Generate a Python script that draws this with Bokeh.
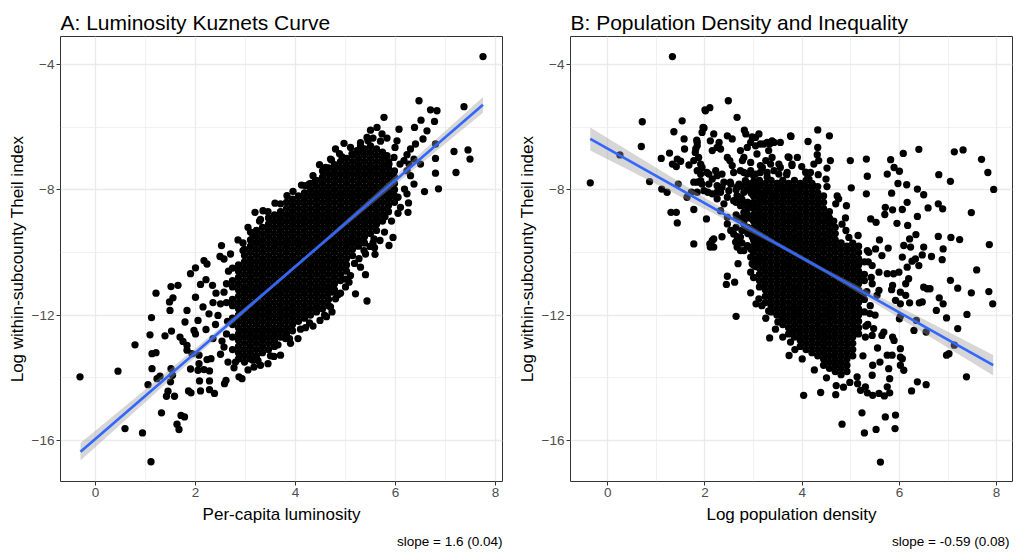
from bokeh.plotting import figure
from bokeh.layouts import row
from bokeh.models import Range1d, FixedTicker, Title
from bokeh.embed import file_html
from bokeh.resources import INLINE

# ---------------- Panel A: luminosity vs inequality ----------------
# scattered subcounties (per-capita luminosity, log Theil index)
lum_x = [-0.31, 0.45, 0.79, 0.59, 0.94, 1.11, 1.21, 1.12, 1.09, 1.13, 1.21, 1.13, 1.23, 1.29, 1.05, 1.32,
         1.51, 1.65, 1.55, 1.48, 1.49, 1.39, 1.52, 1.45, 1.42, 1.58, 1.51, 1.54, 1.50, 1.63, 1.67, 1.71, 1.78,
         1.83, 1.79, 1.69, 1.75, 1.83, 1.86, 1.91, 1.90, 2.00, 2.17, 2.23, 2.10, 2.21, 2.34, 2.00, 2.15, 2.27,
         2.05, 1.97, 2.00, 2.21, 1.83, 1.93, 2.07, 2.07, 2.23, 2.31, 2.05, 2.17, 2.28, 2.08, 2.28, 2.10, 2.28,
         2.38, 1.90, 2.52, 2.49, 2.57, 2.41, 2.57, 2.50, 2.45, 2.53, 2.57, 2.58, 2.61, 2.77, 2.87, 2.93, 3.17,
         3.15, 3.57, 3.30, 3.45, 2.35, 2.40, 2.62, 2.62, 2.35, 2.50, 2.65, 2.66, 2.62, 2.64, 3.19, 3.35, 3.59,
         3.83, 2.95, 3.15, 2.85, 3.05, 3.30, 4.27, 4.20, 4.40, 4.70, 4.60, 4.97, 4.80, 4.93, 5.13, 5.23, 5.43,
         5.30, 5.45, 5.50, 5.63, 5.73, 5.83, 6.07, 6.03, 5.99, 6.40, 6.30, 6.23, 6.17, 6.09, 6.23, 5.97, 5.83,
         5.87, 6.37, 6.27, 6.30, 6.18, 6.23, 6.05, 6.10, 6.26, 6.25, 5.79, 5.95, 5.57, 5.69, 5.49, 5.87, 5.59,
         7.75, 6.47, 7.37, 6.70, 6.83, 5.77, 6.78, 6.51, 6.38, 6.63, 6.55, 6.80, 7.17, 7.45, 7.49, 7.21, 6.80,
         6.80, 6.86, 6.58, 6.50, 6.37, 5.43, 5.20, 5.40, 5.30, 5.27, 5.58, 5.37, 5.10, 5.07, 4.77, 4.80, 4.70,
         4.73, 4.49, 4.20, 3.80, 3.70, 3.90, 4.05, 4.35, 4.62, 5.00, 4.90,
         2.70, 2.95, 3.10, 3.28, 3.45, 3.70, 3.95, 4.12, 4.35, 4.48, 4.72, 4.88, 5.10, 5.30, 5.55, 5.70,
         2.80, 3.05, 3.25, 3.50, 3.65, 3.88, 4.10, 4.28, 4.58, 4.85, 5.00, 5.18, 5.40, 5.55, 5.78, 5.92, 6.05]
theil_a = [-13.97, -13.79, -12.95, -15.62, -15.76, -16.68, -11.30, -12.08, -12.63, -13.23, -13.20, -13.71, -14.03, -13.95, -14.22, -15.12,
           -11.09, -11.05, -11.45, -11.58, -11.85, -12.66, -12.51, -14.43, -14.59, -14.59, -13.71, -13.92, -14.13, -15.48, -15.65, -15.20, -15.25,
           -11.85, -12.22, -12.70, -12.84, -12.97, -14.42, -14.48, -10.68, -10.49, -10.26, -10.37, -11.02, -10.87, -11.05, -11.43, -11.74, -11.96,
           -12.17, -12.49, -12.60, -12.46, -13.12, -13.23, -13.28, -13.55, -13.42, -13.39, -13.76, -13.74, -13.78, -14.10, -14.10, -14.42, -14.38,
           -14.50, -13.72, -9.78, -10.13, -10.21, -11.30, -11.27, -11.64, -12.01, -12.83, -13.02, -14.19, -14.08, -13.68, -13.97, -14.03, -13.66,
           -13.44, -13.32, -13.60, -13.55, -11.60, -12.30, -12.60, -11.60, -12.75, -13.25, -13.50, -10.60, -11.00, -12.20, -8.72, -8.67, -8.43,
           -8.19, -9.94, -9.46, -9.60, -9.20, -8.95, -7.82, -7.87, -7.71, -7.02, -7.29, -6.52, -6.70, -6.95, -6.86, -6.75, -6.33,
           -6.60, -6.44, -6.10, -6.01, -6.22, -6.35, -6.07, -6.44, -6.65, -6.54, -6.70, -6.88, -7.07, -7.18, -7.39, -6.97, -6.91,
           -7.18, -7.02, -7.18, -7.55, -7.98, -8.13, -8.24, -8.56, -8.42, -8.72, -8.86, -9.52, -9.57, -9.62, -9.81, -9.78, -10.06,
           -3.75, -5.16, -5.35, -5.45, -5.48, -5.69, -5.82, -5.78, -6.01, -6.12, -6.38, -6.54, -6.78, -6.73, -7.02, -7.45, -7.00,
           -7.47, -7.97, -8.06, -7.18, -7.82, -11.55, -11.32, -10.71, -10.47, -10.20, -9.85, -9.94, -10.74, -10.95, -11.27, -11.48, -11.74,
           -11.90, -12.17, -12.40, -12.75, -13.28, -12.90, -12.75, -12.35, -12.05, -11.10, -11.30,
           -10.05, -9.70, -9.35, -9.00, -8.70, -8.45, -8.05, -7.85, -7.55, -7.20, -7.05, -6.85, -6.65, -6.50, -6.35, -6.45,
           -13.50, -13.75, -13.45, -13.30, -12.95, -12.75, -12.45, -12.25, -12.00, -11.35, -10.85, -10.35, -10.05, -9.70, -9.35, -9.00, -8.75]

# crowded centre of the cloud: one list of index values per luminosity column
lum_cols = [2.74, 2.86, 2.98, 3.10, 3.22, 3.34, 3.46, 3.58, 3.70, 3.82, 3.94, 4.06, 4.18, 4.30,
            4.42, 4.54, 4.66, 4.78, 4.90, 5.02, 5.14, 5.26, 5.38, 5.50, 5.62, 5.74, 5.86, 5.98]
theil_a_cols = [
    [-10.5, -10.9, -11.1, -11.5, -11.7, -12.1, -12.3, -12.7, -13.1],
    [-10.4, -10.6, -10.8, -11.0, -11.2, -11.4, -11.6, -11.8, -12.0, -12.2, -12.4, -12.6, -12.8, -13.0, -13.2, -13.4],
    [-9.9, -10.1, -10.3, -10.5, -10.7, -10.9, -11.1, -11.3, -11.5, -11.7, -11.9, -12.1, -12.3, -12.5, -12.7, -12.9, -13.1, -13.3, -13.5],
    [-9.6, -9.8, -10.0, -10.2, -10.4, -10.6, -10.8, -11.0, -11.2, -11.4, -11.6, -11.8, -12.0, -12.2, -12.4, -12.6, -12.8, -13.0, -13.2, -13.4],
    [-9.3, -9.5, -9.7, -9.9, -10.1, -10.3, -10.5, -10.7, -10.9, -11.1, -11.3, -11.5, -11.7, -11.9, -12.1, -12.3, -12.5, -12.7, -12.9, -13.1, -13.3],
    [-9.2, -9.4, -9.6, -9.8, -10.0, -10.2, -10.4, -10.6, -10.8, -11.0, -11.2, -11.4, -11.6, -11.8, -12.0, -12.2, -12.4, -12.6, -12.8, -13.0, -13.2],
    [-8.9, -9.1, -9.3, -9.5, -9.7, -9.9, -10.1, -10.3, -10.5, -10.7, -10.9, -11.1, -11.3, -11.5, -11.7, -11.9, -12.1, -12.3, -12.5, -12.7, -12.9, -13.1],
    [-8.8, -9.0, -9.2, -9.4, -9.6, -9.8, -10.0, -10.2, -10.4, -10.6, -10.8, -11.0, -11.2, -11.4, -11.6, -11.8, -12.0, -12.2, -12.4, -12.6, -12.8, -13.0],
    [-8.7, -8.9, -9.1, -9.3, -9.5, -9.7, -9.9, -10.1, -10.3, -10.5, -10.7, -10.9, -11.1, -11.3, -11.5, -11.7, -11.9, -12.1, -12.3, -12.5, -12.7],
    [-8.4, -8.6, -8.8, -9.0, -9.2, -9.4, -9.6, -9.8, -10.0, -10.2, -10.4, -10.6, -10.8, -11.0, -11.2, -11.4, -11.6, -11.8, -12.0, -12.2, -12.4, -12.6],
    [-8.3, -8.5, -8.7, -8.9, -9.1, -9.3, -9.5, -9.7, -9.9, -10.1, -10.3, -10.5, -10.7, -10.9, -11.1, -11.3, -11.5, -11.7, -11.9, -12.1, -12.3, -12.5],
    [-8.2, -8.4, -8.6, -8.8, -9.0, -9.2, -9.4, -9.6, -9.8, -10.0, -10.2, -10.4, -10.6, -10.8, -11.0, -11.2, -11.4, -11.6, -11.8, -12.0, -12.2],
    [-8.1, -8.3, -8.5, -8.7, -8.9, -9.1, -9.3, -9.5, -9.7, -9.9, -10.1, -10.3, -10.5, -10.7, -10.9, -11.1, -11.3, -11.5, -11.7, -11.9, -12.1],
    [-7.8, -8.0, -8.2, -8.4, -8.6, -8.8, -9.0, -9.2, -9.4, -9.6, -9.8, -10.0, -10.2, -10.4, -10.6, -10.8, -11.0, -11.2, -11.4, -11.6, -11.8, -12.0],
    [-7.7, -7.9, -8.1, -8.3, -8.5, -8.7, -8.9, -9.1, -9.3, -9.5, -9.7, -9.9, -10.1, -10.3, -10.5, -10.7, -10.9, -11.1, -11.3, -11.5, -11.7, -11.9],
    [-7.4, -7.6, -7.8, -8.0, -8.2, -8.4, -8.6, -8.8, -9.0, -9.2, -9.4, -9.6, -9.8, -10.0, -10.2, -10.4, -10.6, -10.8, -11.0, -11.2, -11.4, -11.6, -11.8],
    [-7.3, -7.5, -7.7, -7.9, -8.1, -8.3, -8.5, -8.7, -8.9, -9.1, -9.3, -9.5, -9.7, -9.9, -10.1, -10.3, -10.5, -10.7, -10.9, -11.1, -11.3, -11.5, -11.7],
    [-7.2, -7.4, -7.6, -7.8, -8.0, -8.2, -8.4, -8.6, -8.8, -9.0, -9.2, -9.4, -9.6, -9.8, -10.0, -10.2, -10.4, -10.6, -10.8, -11.0, -11.2],
    [-7.1, -7.3, -7.5, -7.7, -7.9, -8.1, -8.3, -8.5, -8.7, -8.9, -9.1, -9.3, -9.5, -9.7, -9.9, -10.1, -10.3, -10.5, -10.7, -10.9],
    [-7.0, -7.2, -7.4, -7.6, -7.8, -8.0, -8.2, -8.4, -8.6, -8.8, -9.0, -9.2, -9.4, -9.6, -9.8, -10.0, -10.2, -10.4, -10.6],
    [-6.9, -7.1, -7.3, -7.5, -7.7, -7.9, -8.1, -8.3, -8.5, -8.7, -8.9, -9.1, -9.3, -9.5, -9.7, -9.9, -10.1],
    [-6.8, -7.0, -7.2, -7.4, -7.6, -7.8, -8.0, -8.2, -8.4, -8.6, -8.8, -9.0, -9.2, -9.4, -9.6, -9.8],
    [-6.7, -6.9, -7.1, -7.3, -7.5, -7.7, -7.9, -8.1, -8.3, -8.5, -8.7, -8.9, -9.1, -9.3, -9.5, -9.7],
    [-6.6, -6.8, -7.0, -7.2, -7.4, -7.6, -7.8, -8.0, -8.2, -8.4, -8.6, -8.8, -9.0, -9.2, -9.4],
    [-6.7, -6.9, -7.1, -7.3, -7.5, -7.7, -7.9, -8.1, -8.3, -8.5, -8.7, -8.9, -9.1, -9.3],
    [-6.8, -7.0, -7.2, -7.4, -7.6, -7.8, -8.0, -8.2, -8.4, -8.6, -8.8, -9.0],
    [-7.1, -7.3, -7.5, -7.7, -7.9, -8.1, -8.3, -8.5, -8.7],
    [-7.4, -7.6, -7.8, -8.0, -8.2, -8.4],
]

# linear fit and its confidence band
fit_a_x = [-0.30, 7.75]
fit_a_y = [-16.36, -5.29]
band_a_x = [-0.30, 0.5, 1.5, 2.5, 3.5, 4.5, 5.5, 6.5, 7.75]
band_a_half = [0.28, 0.23, 0.17, 0.11, 0.06, 0.06, 0.11, 0.17, 0.25]

# ---------------- Panel B: population density vs inequality ----------------
dens_x = [-0.36, 0.25, 0.71, 0.69, 0.86, 1.10, 1.27, 1.11, 1.22, 1.30, 1.41, 1.43, 1.33,
          1.36, 1.53, 1.57, 1.58, 1.33, 1.43, 1.50, 1.41, 1.67, 1.45, 1.77, 2.03, 1.72, 1.84, 1.63,
          2.00, 2.10, 2.48, 1.98, 1.83, 1.84, 1.80, 1.87, 1.94, 1.91, 1.84, 1.94,
          2.66, 2.46, 2.56, 2.18, 2.11, 2.25, 2.81, 2.84, 2.51, 2.46, 2.08, 2.15, 2.25, 2.06, 2.25, 2.35,
          2.53, 2.66, 2.46, 2.59, 2.73,
          2.97, 3.11, 3.04, 3.21, 3.33, 3.38, 3.55, 3.76, 3.73, 3.79, 3.68, 2.80, 2.94, 3.07, 3.18, 3.04,
          2.94, 2.80, 3.35, 3.42, 3.55, 3.28,
          1.77, 2.10, 2.18, 2.15, 2.32, 2.46, 2.66, 2.80, 2.53, 2.66, 2.87, 2.35, 2.97, 2.80,
          3.10, 3.30, 3.50, 3.62, 3.20, 2.95, 3.45, 3.00, 2.90, 2.97, 2.95,
          2.68, 2.46, 2.44, 2.61, 2.94, 2.64, 3.05, 3.11, 3.31, 3.33, 3.50, 3.73, 3.76, 2.97, 2.94, 2.63,
          2.73, 2.87, 3.04, 3.00, 3.17, 3.25, 3.45, 3.60,
          4.32, 4.56, 3.77, 4.12, 4.32, 4.31, 3.71, 3.90, 3.99, 4.24, 4.58, 4.51, 4.07, 4.33, 4.14, 4.49,
          4.51, 4.22, 3.99, 3.79,
          4.99, 5.32, 5.34, 5.32, 5.01, 5.82, 5.89, 6.00, 5.75, 6.08, 6.40, 5.97, 6.15, 6.37, 6.50, 5.84,
          6.81, 7.05, 7.13, 7.31, 7.69, 7.82, 7.94, 6.80, 6.89, 6.59, 7.48, 6.16, 6.06, 6.37, 6.17, 5.71,
          5.86, 5.70, 5.41, 5.52, 5.95, 6.34, 6.21, 6.80, 7.06, 7.24, 7.85, 5.15, 5.59, 4.96, 4.89, 4.91,
          4.75, 4.69, 6.09, 6.23, 5.77, 5.51, 6.90, 4.72, 4.65, 4.82, 4.90,
          7.59, 7.05, 7.20, 7.48, 7.84, 7.92, 7.39, 7.20, 6.97, 7.02, 6.97, 7.13, 7.38, 6.82, 6.90, 6.76,
          6.47, 6.66, 6.88, 6.50, 6.57, 6.63, 6.41, 6.47, 6.21, 6.30, 6.55, 6.35, 6.06, 6.02, 6.09, 6.37,
          6.55, 6.25, 5.92, 5.71, 5.91, 5.52, 5.28, 5.23, 4.82, 5.61, 4.03, 4.38, 4.69, 5.45, 5.58, 5.69,
          5.80, 5.75, 5.80, 5.78, 6.02, 5.14, 5.20, 5.30, 5.34, 5.13, 5.44, 5.85, 6.02, 5.75, 5.89, 5.86,
          5.47, 5.64, 5.68, 5.44, 6.02, 6.00, 5.92, 6.02, 5.58, 5.54, 5.84, 5.86, 6.02, 6.13, 6.13, 6.19,
          6.16, 6.26, 6.40, 6.33, 6.06, 5.99, 5.88, 6.50, 5.64, 5.34, 5.44, 5.58, 5.75, 5.44,
          5.40, 5.50, 5.35, 5.30, 5.25, 5.55, 5.60, 5.45, 4.70, 4.85, 4.98, 4.50, 4.25, 4.00, 3.85,
          2.01, 1.96, 1.94, 3.04, 1.84, 1.81, 2.29, 2.94, 3.14, 3.28, 3.42, 2.15, 2.32, 2.73, 2.87, 3.31,
          3.38, 1.77, 1.91, 2.56, 2.77, 3.14, 3.25, 3.52, 3.79, 4.10, 4.34, 1.84, 2.04, 2.22, 2.35, 2.59,
          2.73, 2.87, 3.00, 3.14, 3.28, 3.52, 3.69, 4.17, 1.77, 1.91, 2.08, 2.25, 2.39, 2.52, 2.70, 2.83,
          2.97, 3.11, 1.98, 2.15, 2.32, 2.49, 2.66, 2.80, 2.97, 2.25, 2.39, 2.73, 2.87, 3.04, 2.46, 2.80,
          2.97, 2.59, 2.73, 2.90, 3.01, 2.18, 2.11, 2.66, 2.80, 3.07, 2.94, 3.14,
          5.36, 5.42, 5.33, 5.39, 5.31, 5.37]
theil_b = [-7.78, -6.89, -5.83, -6.62, -7.74, -7.00, -6.83, -7.98, -8.08, -8.72, -8.72, -9.06, -3.75,
           -6.15, -5.80, -6.38, -6.70, -7.18, -7.02, -7.09, -7.26, -7.21, -7.82, -8.63, -8.93, -8.08, -8.08, -8.24,
           -5.45, -5.38, -5.16, -6.03, -6.42, -6.60, -6.81, -6.97, -7.29, -7.50, -7.76, -7.82,
           -5.69, -6.28, -6.38, -6.22, -6.44, -6.65, -6.10, -6.22, -7.07, -6.97, -7.50, -7.66, -7.55, -8.08, -8.08, -7.92,
           -7.82, -7.92, -8.24, -8.35, -8.24,
           -6.31, -6.22, -6.60, -6.54, -6.54, -6.44, -6.49, -6.28, -6.97, -7.23, -7.52, -6.97, -7.13, -6.86, -7.29, -7.50,
           -7.39, -7.45, -7.18, -7.39, -7.29, -7.60,
           -9.73, -9.73, -9.83, -9.62, -8.67, -8.88, -8.88, -8.72, -9.30, -9.50, -9.30, -9.50, -8.50, -9.10,
           -7.90, -8.00, -7.80, -7.98, -8.30, -8.10, -8.20, -7.75, -8.90, -9.50, -9.90,
           -10.36, -10.76, -11.02, -10.95, -11.29, -12.04, -11.64, -11.48, -11.87, -12.73, -12.22, -13.29, -12.86, -10.36, -10.63, -9.67,
           -9.94, -9.78, -10.45, -10.80, -11.70, -12.10, -12.45, -12.70,
           -6.09, -6.28, -6.30, -6.46, -6.65, -6.88, -6.95, -6.97, -7.26, -7.18, -7.07, -7.31, -7.44, -7.52, -7.66, -7.66,
           -7.90, -7.87, -7.84, -7.92,
           -7.07, -7.02, -7.57, -8.13, -7.94, -7.04, -7.29, -7.41, -7.50, -6.84, -6.71, -7.80, -7.84, -7.98, -8.16, -8.11,
           -7.52, -7.73, -6.79, -6.73, -7.03, -7.45, -7.99, -8.45, -8.61, -8.58, -8.73, -8.40, -8.63, -8.85, -9.14, -8.56,
           -8.64, -8.79, -8.93, -9.04, -9.07, -9.43, -9.57, -9.49, -9.52, -9.59, -9.75, -9.46, -9.60, -9.52, -8.90, -8.51,
           -8.29, -8.45, -9.78, -9.83, -9.86, -9.89, -9.89, -8.20, -9.00, -9.10, -9.30,
           -10.56, -10.89, -11.14, -11.29, -11.25, -11.64, -11.98, -12.43, -12.09, -13.23, -13.28, -12.96, -13.97, -11.45, -11.64, -11.85,
           -10.08, -10.13, -10.23, -11.11, -11.16, -11.16, -11.61, -11.58, -11.61, -12.49, -12.54, -12.17, -13.39, -13.34, -13.76, -14.13,
           -14.22, -14.42, -15.19, -15.25, -15.62, -15.65, -15.76, -15.12, -15.48, -16.69, -14.56, -14.47, -14.54, -14.56, -14.50, -14.58,
           -14.48, -14.29, -14.03, -13.71, -13.60, -14.19, -14.40, -14.29, -14.48, -13.97, -13.92, -13.28, -13.07, -13.28, -12.81, -12.70,
           -12.43, -12.65, -12.54, -12.65, -12.04, -12.12, -11.53, -11.64, -11.21, -11.37, -11.19, -11.05, -11.27, -11.37, -11.00, -10.84,
           -10.47, -10.28, -10.42, -10.21, -10.15, -10.63, -10.68, -9.83, -10.10, -9.94, -10.42, -10.63, -10.68, -11.00,
           -11.70, -12.00, -12.30, -12.70, -13.30, -13.05, -13.50, -13.60, -14.25, -14.30, -14.15, -14.00, -13.75, -13.40, -13.10,
           -5.48, -6.01, -6.17, -6.33, -6.49, -6.70, -6.49, -6.49, -6.54, -6.49, -6.49, -6.75, -6.70, -6.75, -6.65, -6.75,
           -6.97, -7.07, -7.18, -7.23, -7.07, -7.23, -7.07, -7.18, -7.18, -7.50, -7.07, -7.39, -7.45, -7.39, -7.50, -7.45,
           -7.39, -7.50, -7.55, -7.45, -7.45, -7.50, -7.45, -7.45, -7.76, -7.71, -7.82, -7.87, -7.76, -7.76, -7.82, -7.71,
           -7.87, -7.76, -8.03, -8.13, -8.08, -8.03, -8.19, -8.08, -8.13, -8.29, -8.45, -8.51, -8.40, -8.56, -9.09, -8.98,
           -8.93, -9.41, -9.51, -9.30, -9.62, -9.57, -9.83, -9.83, -9.94, -9.83, -10.15, -10.20,
           -10.30, -10.80, -11.25, -11.95, -12.35, -10.00]

dens_cols = [2.64, 2.76, 2.88, 3.00, 3.12, 3.24, 3.36, 3.48, 3.60, 3.72, 3.84, 3.96, 4.08,
             4.20, 4.32, 4.44, 4.56, 4.68, 4.80, 4.92, 5.04, 5.16, 5.28]
theil_b_cols = [
    [-8.0, -8.4, -8.8, -9.2],
    [-7.9, -8.3, -8.5, -8.9, -9.3, -9.7],
    [-7.8, -8.0, -8.4, -8.6, -8.8, -9.2, -9.4, -9.8],
    [-7.8, -8.0, -8.2, -8.4, -8.6, -8.8, -9.0, -9.2, -9.4, -9.6, -9.8, -10.0, -10.2, -10.4],
    [-7.7, -7.9, -8.1, -8.3, -8.5, -8.7, -8.9, -9.1, -9.3, -9.5, -9.7, -9.9, -10.1, -10.3, -10.5, -10.7, -10.9, -11.1],
    [-7.8, -8.0, -8.2, -8.4, -8.6, -8.8, -9.0, -9.2, -9.4, -9.6, -9.8, -10.0, -10.2, -10.4, -10.6, -10.8, -11.0, -11.2, -11.4, -11.6],
    [-7.7, -7.9, -8.1, -8.3, -8.5, -8.7, -8.9, -9.1, -9.3, -9.5, -9.7, -9.9, -10.1, -10.3, -10.5, -10.7, -10.9, -11.1, -11.3, -11.5, -11.7, -11.9],
    [-7.8, -8.0, -8.2, -8.4, -8.6, -8.8, -9.0, -9.2, -9.4, -9.6, -9.8, -10.0, -10.2, -10.4, -10.6, -10.8, -11.0, -11.2, -11.4, -11.6, -11.8, -12.0],
    [-7.7, -7.9, -8.1, -8.3, -8.5, -8.7, -8.9, -9.1, -9.3, -9.5, -9.7, -9.9, -10.1, -10.3, -10.5, -10.7, -10.9, -11.1, -11.3, -11.5, -11.7, -11.9, -12.1, -12.3],
    [-7.8, -8.0, -8.2, -8.4, -8.6, -8.8, -9.0, -9.2, -9.4, -9.6, -9.8, -10.0, -10.2, -10.4, -10.6, -10.8, -11.0, -11.2, -11.4, -11.6, -11.8, -12.0, -12.2, -12.4, -12.6],
    [-7.7, -7.9, -8.1, -8.3, -8.5, -8.7, -8.9, -9.1, -9.3, -9.5, -9.7, -9.9, -10.1, -10.3, -10.5, -10.7, -10.9, -11.1, -11.3, -11.5, -11.7, -11.9, -12.1, -12.3, -12.5, -12.7],
    [-7.8, -8.0, -8.2, -8.4, -8.6, -8.8, -9.0, -9.2, -9.4, -9.6, -9.8, -10.0, -10.2, -10.4, -10.6, -10.8, -11.0, -11.2, -11.4, -11.6, -11.8, -12.0, -12.2, -12.4, -12.6, -12.8, -13.0],
    [-7.7, -7.9, -8.1, -8.3, -8.5, -8.7, -8.9, -9.1, -9.3, -9.5, -9.7, -9.9, -10.1, -10.3, -10.5, -10.7, -10.9, -11.1, -11.3, -11.5, -11.7, -11.9, -12.1, -12.3, -12.5, -12.7, -12.9, -13.1],
    [-7.8, -8.0, -8.2, -8.4, -8.6, -8.8, -9.0, -9.2, -9.4, -9.6, -9.8, -10.0, -10.2, -10.4, -10.6, -10.8, -11.0, -11.2, -11.4, -11.6, -11.8, -12.0, -12.2, -12.4, -12.6, -12.8, -13.0, -13.2],
    [-7.9, -8.1, -8.3, -8.5, -8.7, -8.9, -9.1, -9.3, -9.5, -9.7, -9.9, -10.1, -10.3, -10.5, -10.7, -10.9, -11.1, -11.3, -11.5, -11.7, -11.9, -12.1, -12.3, -12.5, -12.7, -12.9, -13.1, -13.3],
    [-8.2, -8.4, -8.6, -8.8, -9.0, -9.2, -9.4, -9.6, -9.8, -10.0, -10.2, -10.4, -10.6, -10.8, -11.0, -11.2, -11.4, -11.6, -11.8, -12.0, -12.2, -12.4, -12.6, -12.8, -13.0, -13.2, -13.4, -13.6],
    [-8.7, -8.9, -9.1, -9.3, -9.5, -9.7, -9.9, -10.1, -10.3, -10.5, -10.7, -10.9, -11.1, -11.3, -11.5, -11.7, -11.9, -12.1, -12.3, -12.5, -12.7, -12.9, -13.1, -13.3, -13.5, -13.7],
    [-9.2, -9.4, -9.6, -9.8, -10.0, -10.2, -10.4, -10.6, -10.8, -11.0, -11.2, -11.4, -11.6, -11.8, -12.0, -12.2, -12.4, -12.6, -12.8, -13.0, -13.2, -13.4, -13.6, -13.8],
    [-9.7, -9.9, -10.1, -10.3, -10.5, -10.7, -10.9, -11.1, -11.3, -11.5, -11.7, -11.9, -12.1, -12.3, -12.5, -12.7, -12.9, -13.1, -13.3, -13.5, -13.7, -13.9],
    [-9.8, -10.0, -10.2, -10.4, -10.6, -10.8, -11.0, -11.2, -11.4, -11.6, -11.8, -12.0, -12.2, -12.4, -12.6, -12.8, -13.0, -13.2, -13.4, -13.6, -13.8],
    [-9.7, -9.9, -10.1, -10.3, -10.5, -10.7, -10.9, -11.1, -11.3, -11.5, -11.7, -11.9, -12.1, -12.3, -12.5, -12.7, -12.9, -13.1, -13.3],
    [-9.8, -10.0, -10.2, -10.4, -10.6, -10.8, -11.0, -11.2, -11.4, -11.6, -11.8, -12.0, -12.2, -12.4, -12.6],
    [-10.3, -10.7, -10.9, -11.3, -11.5, -11.9],
]

fit_b_x = [-0.36, 7.93]
fit_b_y = [-6.38, -13.60]
band_b_x = [-0.36, 0.5, 1.5, 2.5, 3.5, 4.5, 5.5, 6.5, 7.93]
band_b_half = [0.37, 0.30, 0.22, 0.14, 0.07, 0.07, 0.14, 0.22, 0.33]

y_ticks = [-16, -12, -8, -4]
y_minor = [-14, -10, -6]
x_ticks = [0, 2, 4, 6, 8]
x_minor = [1, 3, 5, 7]

FONT = "Liberation Sans"


def line_at(x, xs, ys):
    # value of the straight fitted line at x
    return ys[0] + (ys[1] - ys[0]) * (x - xs[0]) / (xs[1] - xs[0])


def panel(title, x_label, caption, px, py, cols, col_ys, x_range,
          fit_x, fit_y, band_x, band_half, border_left, frame_w, border_right, caption_shift):
    p = figure(frame_width=frame_w, frame_height=445,
               min_border_left=border_left, min_border_right=border_right,
               min_border_top=36, min_border_bottom=73,
               x_range=Range1d(*x_range), y_range=Range1d(-17.31, -3.11),
               output_backend="svg", toolbar_location=None, title=title)
    p.title.text_font = FONT
    p.title.text_font_size = "21px"
    p.title.text_font_style = "normal"
    p.title.text_color = "black"
    p.title.align = "left"
    p.title.standoff = 6

    p.outline_line_color = "#333333"
    p.outline_line_width = 1
    p.background_fill_color = "white"
    p.border_fill_color = "white"

    p.xaxis.ticker = FixedTicker(ticks=x_ticks, minor_ticks=x_minor)
    p.yaxis.ticker = FixedTicker(ticks=y_ticks, minor_ticks=y_minor)
    p.xaxis.axis_label = x_label
    p.yaxis.axis_label = "Log within-subcounty Theil index"
    for ax in (p.xaxis[0], p.yaxis[0]):
        ax.axis_line_color = None
        ax.major_tick_line_color = "#333333"
        ax.major_tick_in = 0
        ax.major_tick_out = 4
        ax.minor_tick_line_color = None
        ax.major_label_text_font = FONT
        ax.major_label_text_font_size = "13.5px"
        ax.major_label_text_color = "#4D4D4D"
        ax.major_label_standoff = 2
        ax.axis_label_text_font = FONT
        ax.axis_label_text_font_size = "17px"
        ax.axis_label_text_font_style = "normal"
        ax.axis_label_text_color = "black"
    p.xaxis[0].axis_label_standoff = 5
    p.yaxis[0].axis_label_standoff = 2
    for g in (p.xgrid[0], p.ygrid[0]):
        g.grid_line_color = "#EBEBEB"
        g.grid_line_width = 1.3
        g.minor_grid_line_color = "#EBEBEB"
        g.minor_grid_line_width = 0.7

    xs = list(px)
    ys = list(py)
    for cx, cy in zip(cols, col_ys):
        xs += [cx] * len(cy)
        ys += cy
    p.scatter(xs, ys, size=7.3, fill_color="black", line_color=None)

    mid = [line_at(x, fit_x, fit_y) for x in band_x]
    p.varea(x=band_x, y1=[m - h for m, h in zip(mid, band_half)],
            y2=[m + h for m, h in zip(mid, band_half)],
            fill_color="#999999", fill_alpha=0.4)
    p.line(fit_x, fit_y, line_color="#3366FF", line_width=2.6)

    p.add_layout(Title(text=caption, align="right", offset=caption_shift, text_font=FONT,
                       text_font_size="13.5px", text_font_style="normal",
                       text_color="black"), "below")
    return p


pa = panel("A: Luminosity Kuznets Curve", "Per-capita luminosity", "slope = 1.6 (0.04)",
           lum_x, theil_a, lum_cols, theil_a_cols, (-0.70, 8.14),
           fit_a_x, fit_a_y, band_a_x, band_a_half, 60, 442, 6, 0)
pb = panel("B: Population Density and Inequality", "Log population density", "slope = -0.59 (0.08)",
           dens_x, theil_b, dens_cols, theil_b_cols, (-0.767, 8.327),
           fit_b_x, fit_b_y, band_b_x, band_b_half, 62, 442, 5, 3)

layout = row(pa, pb)
open("out.html", "w").write(file_html(layout, INLINE))
